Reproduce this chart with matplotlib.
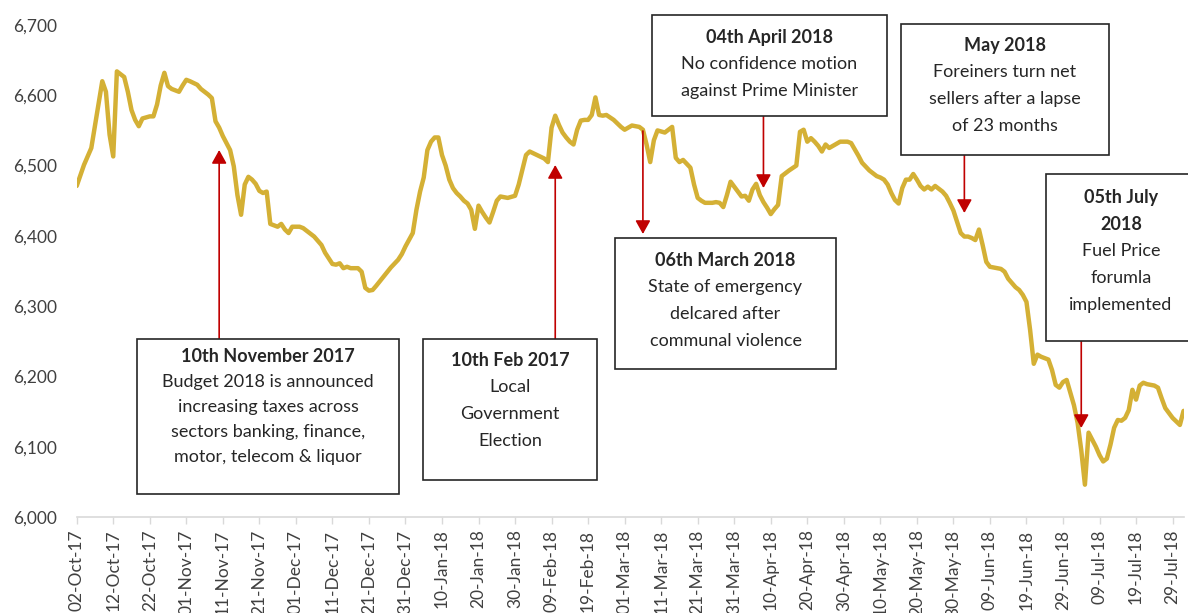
import matplotlib
matplotlib.use("Agg")
import matplotlib.pyplot as plt
import matplotlib.dates as mdates
from matplotlib.patches import Rectangle
from matplotlib.transforms import Affine2D
from matplotlib.ticker import FuncFormatter
import pandas as pd

plt.rcParams['font.family'] = ['Lato', 'DejaVu Sans']

# ASPI closing values (Oct 2017 - Jul 2018)
dates = [
    "2017-10-02", "2017-10-04", "2017-10-06", "2017-10-09", "2017-10-10", "2017-10-11",
    "2017-10-12", "2017-10-13", "2017-10-15", "2017-10-16", "2017-10-17", "2017-10-18",
    "2017-10-19", "2017-10-20", "2017-10-22", "2017-10-23", "2017-10-24", "2017-10-25",
    "2017-10-26", "2017-10-27", "2017-10-28", "2017-10-30", "2017-10-31", "2017-11-01",
    "2017-11-02", "2017-11-04", "2017-11-05", "2017-11-06", "2017-11-07", "2017-11-08",
    "2017-11-09", "2017-11-10", "2017-11-11", "2017-11-12", "2017-11-13", "2017-11-14",
    "2017-11-15", "2017-11-16", "2017-11-17", "2017-11-18", "2017-11-19", "2017-11-20",
    "2017-11-21", "2017-11-22", "2017-11-23", "2017-11-24", "2017-11-26", "2017-11-27",
    "2017-11-28", "2017-11-29", "2017-11-30", "2017-12-02", "2017-12-03", "2017-12-04",
    "2017-12-06", "2017-12-08", "2017-12-09", "2017-12-11", "2017-12-12", "2017-12-13",
    "2017-12-14", "2017-12-15", "2017-12-16", "2017-12-18", "2017-12-19", "2017-12-20",
    "2017-12-21", "2017-12-22", "2017-12-23", "2017-12-25", "2017-12-27", "2017-12-29",
    "2017-12-30", "2017-12-31", "2018-01-02", "2018-01-03", "2018-01-04", "2018-01-05",
    "2018-01-06", "2018-01-07", "2018-01-08", "2018-01-09", "2018-01-10", "2018-01-11",
    "2018-01-12", "2018-01-13", "2018-01-14", "2018-01-15", "2018-01-16", "2018-01-17",
    "2018-01-18", "2018-01-19", "2018-01-20", "2018-01-21", "2018-01-22", "2018-01-23",
    "2018-01-24", "2018-01-25", "2018-01-26", "2018-01-28", "2018-01-30", "2018-01-31",
    "2018-02-01", "2018-02-02", "2018-02-03", "2018-02-05", "2018-02-07", "2018-02-08",
    "2018-02-09", "2018-02-10", "2018-02-11", "2018-02-12", "2018-02-13", "2018-02-14",
    "2018-02-15", "2018-02-16", "2018-02-17", "2018-02-18", "2018-02-19", "2018-02-20",
    "2018-02-21", "2018-02-22", "2018-02-23", "2018-02-24", "2018-02-26", "2018-02-27",
    "2018-02-28", "2018-03-01", "2018-03-02", "2018-03-03", "2018-03-05", "2018-03-06",
    "2018-03-07", "2018-03-08", "2018-03-09", "2018-03-10", "2018-03-12", "2018-03-13",
    "2018-03-14", "2018-03-15", "2018-03-16", "2018-03-17", "2018-03-19", "2018-03-20",
    "2018-03-21", "2018-03-22", "2018-03-23", "2018-03-25", "2018-03-26", "2018-03-27",
    "2018-03-28", "2018-03-29", "2018-03-30", "2018-03-31", "2018-04-01", "2018-04-02",
    "2018-04-03", "2018-04-04", "2018-04-05", "2018-04-06", "2018-04-07", "2018-04-08",
    "2018-04-09", "2018-04-10", "2018-04-11", "2018-04-12", "2018-04-13", "2018-04-15",
    "2018-04-17", "2018-04-18", "2018-04-19", "2018-04-20", "2018-04-21", "2018-04-22",
    "2018-04-23", "2018-04-24", "2018-04-25", "2018-04-26", "2018-04-27", "2018-04-29",
    "2018-05-01", "2018-05-02", "2018-05-03", "2018-05-04", "2018-05-05", "2018-05-07",
    "2018-05-09", "2018-05-10", "2018-05-11", "2018-05-12", "2018-05-13", "2018-05-14",
    "2018-05-15", "2018-05-16", "2018-05-17", "2018-05-18", "2018-05-19", "2018-05-20",
    "2018-05-21", "2018-05-22", "2018-05-23", "2018-05-24", "2018-05-25", "2018-05-27",
    "2018-05-28", "2018-05-29", "2018-05-30", "2018-05-31", "2018-06-01", "2018-06-02",
    "2018-06-03", "2018-06-04", "2018-06-05", "2018-06-06", "2018-06-07", "2018-06-08",
    "2018-06-09", "2018-06-11", "2018-06-12", "2018-06-13", "2018-06-14", "2018-06-15",
    "2018-06-16", "2018-06-17", "2018-06-18", "2018-06-19", "2018-06-20", "2018-06-21",
    "2018-06-22", "2018-06-23", "2018-06-25", "2018-06-26", "2018-06-27", "2018-06-28",
    "2018-06-29", "2018-06-30", "2018-07-01", "2018-07-02", "2018-07-03", "2018-07-04",
    "2018-07-05", "2018-07-06", "2018-07-07", "2018-07-08", "2018-07-09", "2018-07-10",
    "2018-07-11", "2018-07-12", "2018-07-13", "2018-07-14", "2018-07-15", "2018-07-16",
    "2018-07-17", "2018-07-18", "2018-07-19", "2018-07-20", "2018-07-21", "2018-07-22",
    "2018-07-23", "2018-07-24", "2018-07-25", "2018-07-26", "2018-07-27", "2018-07-28",
    "2018-07-29", "2018-07-30", "2018-07-31", "2018-08-01",
]

aspi = [
    6471, 6501, 6525, 6620, 6605, 6544,
    6513, 6634, 6626, 6605, 6579, 6565,
    6556, 6567, 6570, 6570, 6587, 6614,
    6632, 6613, 6609, 6605, 6614, 6622,
    6620, 6615, 6609, 6605, 6601, 6596,
    6563, 6554, 6542, 6532, 6522, 6499,
    6458, 6430, 6473, 6484, 6480, 6474,
    6464, 6461, 6463, 6417, 6413, 6417,
    6409, 6404, 6413, 6413, 6411, 6407,
    6399, 6387, 6376, 6360, 6359, 6361,
    6354, 6356, 6354, 6354, 6349, 6326,
    6322, 6323, 6329, 6342, 6355, 6366,
    6374, 6385, 6404, 6437, 6463, 6483,
    6522, 6534, 6540, 6540, 6515, 6500,
    6480, 6468, 6461, 6456, 6450, 6446,
    6437, 6410, 6443, 6434, 6426, 6419,
    6434, 6450, 6456, 6454, 6457, 6473,
    6494, 6515, 6520, 6515, 6510, 6505,
    6554, 6571, 6558, 6547, 6540, 6534,
    6530, 6551, 6564, 6565, 6565, 6572,
    6597, 6572, 6571, 6572, 6565, 6560,
    6555, 6551, 6554, 6557, 6555, 6551,
    6530, 6505, 6536, 6550, 6547, 6551,
    6555, 6511, 6505, 6508, 6497, 6473,
    6454, 6450, 6447, 6447, 6448, 6447,
    6441, 6458, 6477, 6470, 6463, 6456,
    6457, 6450, 6466, 6474, 6458, 6448,
    6440, 6431, 6438, 6444, 6485, 6493,
    6500, 6548, 6551, 6534, 6539, 6534,
    6528, 6520, 6530, 6525, 6528, 6534,
    6534, 6532, 6523, 6514, 6504, 6493,
    6485, 6483, 6480, 6473, 6461, 6451,
    6446, 6468, 6480, 6480, 6488, 6480,
    6471, 6466, 6470, 6466, 6471, 6463,
    6457, 6447, 6436, 6420, 6404, 6399,
    6399, 6397, 6394, 6409, 6387, 6363,
    6356, 6354, 6353, 6349, 6339, 6333,
    6327, 6323, 6316, 6306, 6266, 6218,
    6231, 6228, 6224, 6209, 6188, 6184,
    6192, 6195, 6177, 6159, 6134, 6095,
    6046, 6120, 6110, 6100, 6088, 6079,
    6083, 6103, 6127, 6138, 6137, 6141,
    6152, 6181, 6167, 6187, 6191, 6189,
    6188, 6187, 6184, 6169, 6155, 6148,
    6141, 6136, 6131, 6151,
]

y_ticks = [6000, 6100, 6200, 6300, 6400, 6500, 6600, 6700]

# Event call-outs: date the arrow marks, bold heading, body lines
event_dates = ["2017-11-10", "2018-02-10", "2018-03-06", "2018-04-08", "2018-06-02", "2018-07-04"]
event_titles = [
    ["10th November 2017"],
    ["10th Feb 2017"],
    ["06th March 2018"],
    ["04th April 2018"],
    ["May 2018"],
    ["05th July", "2018"],
]
event_bodies = [
    ["Budget 2018 is announced", "increasing taxes across",
     "sectors banking, finance,", "motor, telecom & liquor"],
    ["Local", "Government", "Election"],
    ["State of emergency", "delcared after", "communal violence"],
    ["No confidence motion", "against Prime Minister"],
    ["Foreiners turn net", "sellers after a lapse", "of 23 months"],
    ["Fuel Price", "forumla", "implemented"],
]

# Layout of the call-out boxes in figure pixels (from top-left):
# left, right, top, bottom, first-line offset, line step
box_layout = [
    (137, 399, 339, 494, 18, 25),
    (423, 597, 339, 480, 21, 27),
    (615, 836, 238, 369, 22, 27),
    (652, 887, 15, 116, 22, 27),
    (901, 1109, 24, 155, 21, 27),
    (1046, 1198, 174, 341, 23, 27),
]
# Arrow start / end heights in figure pixels (from top)
arrow_layout = [
    (339, 150), (339, 165), (131, 234), (116, 188), (155, 213), (341, 428),
]

W, H = 1188, 613
fig = plt.figure(figsize=(W / 100, H / 100), dpi=100)
fig.patch.set_facecolor("white")
ax = fig.add_axes([76.7 / W, 1 - 517 / H, (1184 - 76.7) / W, (517 - 25) / H])
px = Affine2D().scale(1 / W, -1 / H).translate(0, 1) + fig.transFigure

x = pd.to_datetime(dates)
ax.plot(x, aspi, color="#D4B035", lw=3.2, solid_joinstyle="round",
        solid_capstyle="round", zorder=3)

ax.set_ylim(6000, 6700)
ax.set_xlim(pd.Timestamp("2017-10-02"), pd.Timestamp("2018-08-01 03:00"))

ax.set_yticks(y_ticks)
ax.yaxis.set_major_formatter(FuncFormatter(lambda v, p: f"{int(v):,}"))
ax.set_xticks(pd.date_range("2017-10-02", "2018-07-29", freq="10D"))
ax.xaxis.set_major_formatter(mdates.DateFormatter("%d-%b-%y"))

for s in ["top", "right", "left"]:
    ax.spines[s].set_visible(False)
ax.spines["bottom"].set_color("#D9D9D9")
ax.spines["bottom"].set_linewidth(1.2)
ax.tick_params(axis="y", length=0, pad=14, labelsize=12.5, labelcolor="#404040")
ax.tick_params(axis="x", length=5, width=1, color="#D9D9D9", pad=4,
               labelsize=12.5, labelcolor="#404040", labelrotation=90)

# Call-out boxes with their text
for (x0, x1, y0, y1, first, step), titles, body in zip(box_layout, event_titles, event_bodies):
    fig.add_artist(Rectangle((x0, y0), x1 - x0, y1 - y0, transform=px,
                             facecolor="white", edgecolor="#262626", lw=1.2,
                             zorder=5, clip_on=False))
    cx = (x0 + x1) / 2 if x1 < W else x0 + 75
    lines = [(t, "bold") for t in titles] + [(b, "normal") for b in body]
    for i, (txt, weight) in enumerate(lines):
        fig.text(cx, y0 + first + i * step, txt, transform=px, ha="center",
                 va="center", fontsize=13, fontweight=weight, color="#262626",
                 zorder=6)

# Arrows linking events to the index line
for d, (ya, yb) in zip(event_dates, arrow_layout):
    xd = mdates.date2num(pd.Timestamp(d))
    ax.annotate("", xy=(xd, yb), xycoords=("data", px),
                xytext=(xd, ya), textcoords=("data", px),
                arrowprops=dict(arrowstyle="-|>,head_length=0.45,head_width=0.25",
                                color="#C00000", lw=1.2, mutation_scale=18,
                                shrinkA=0, shrinkB=0),
                annotation_clip=False, zorder=7)

fig.savefig("out.png", dpi=100)
